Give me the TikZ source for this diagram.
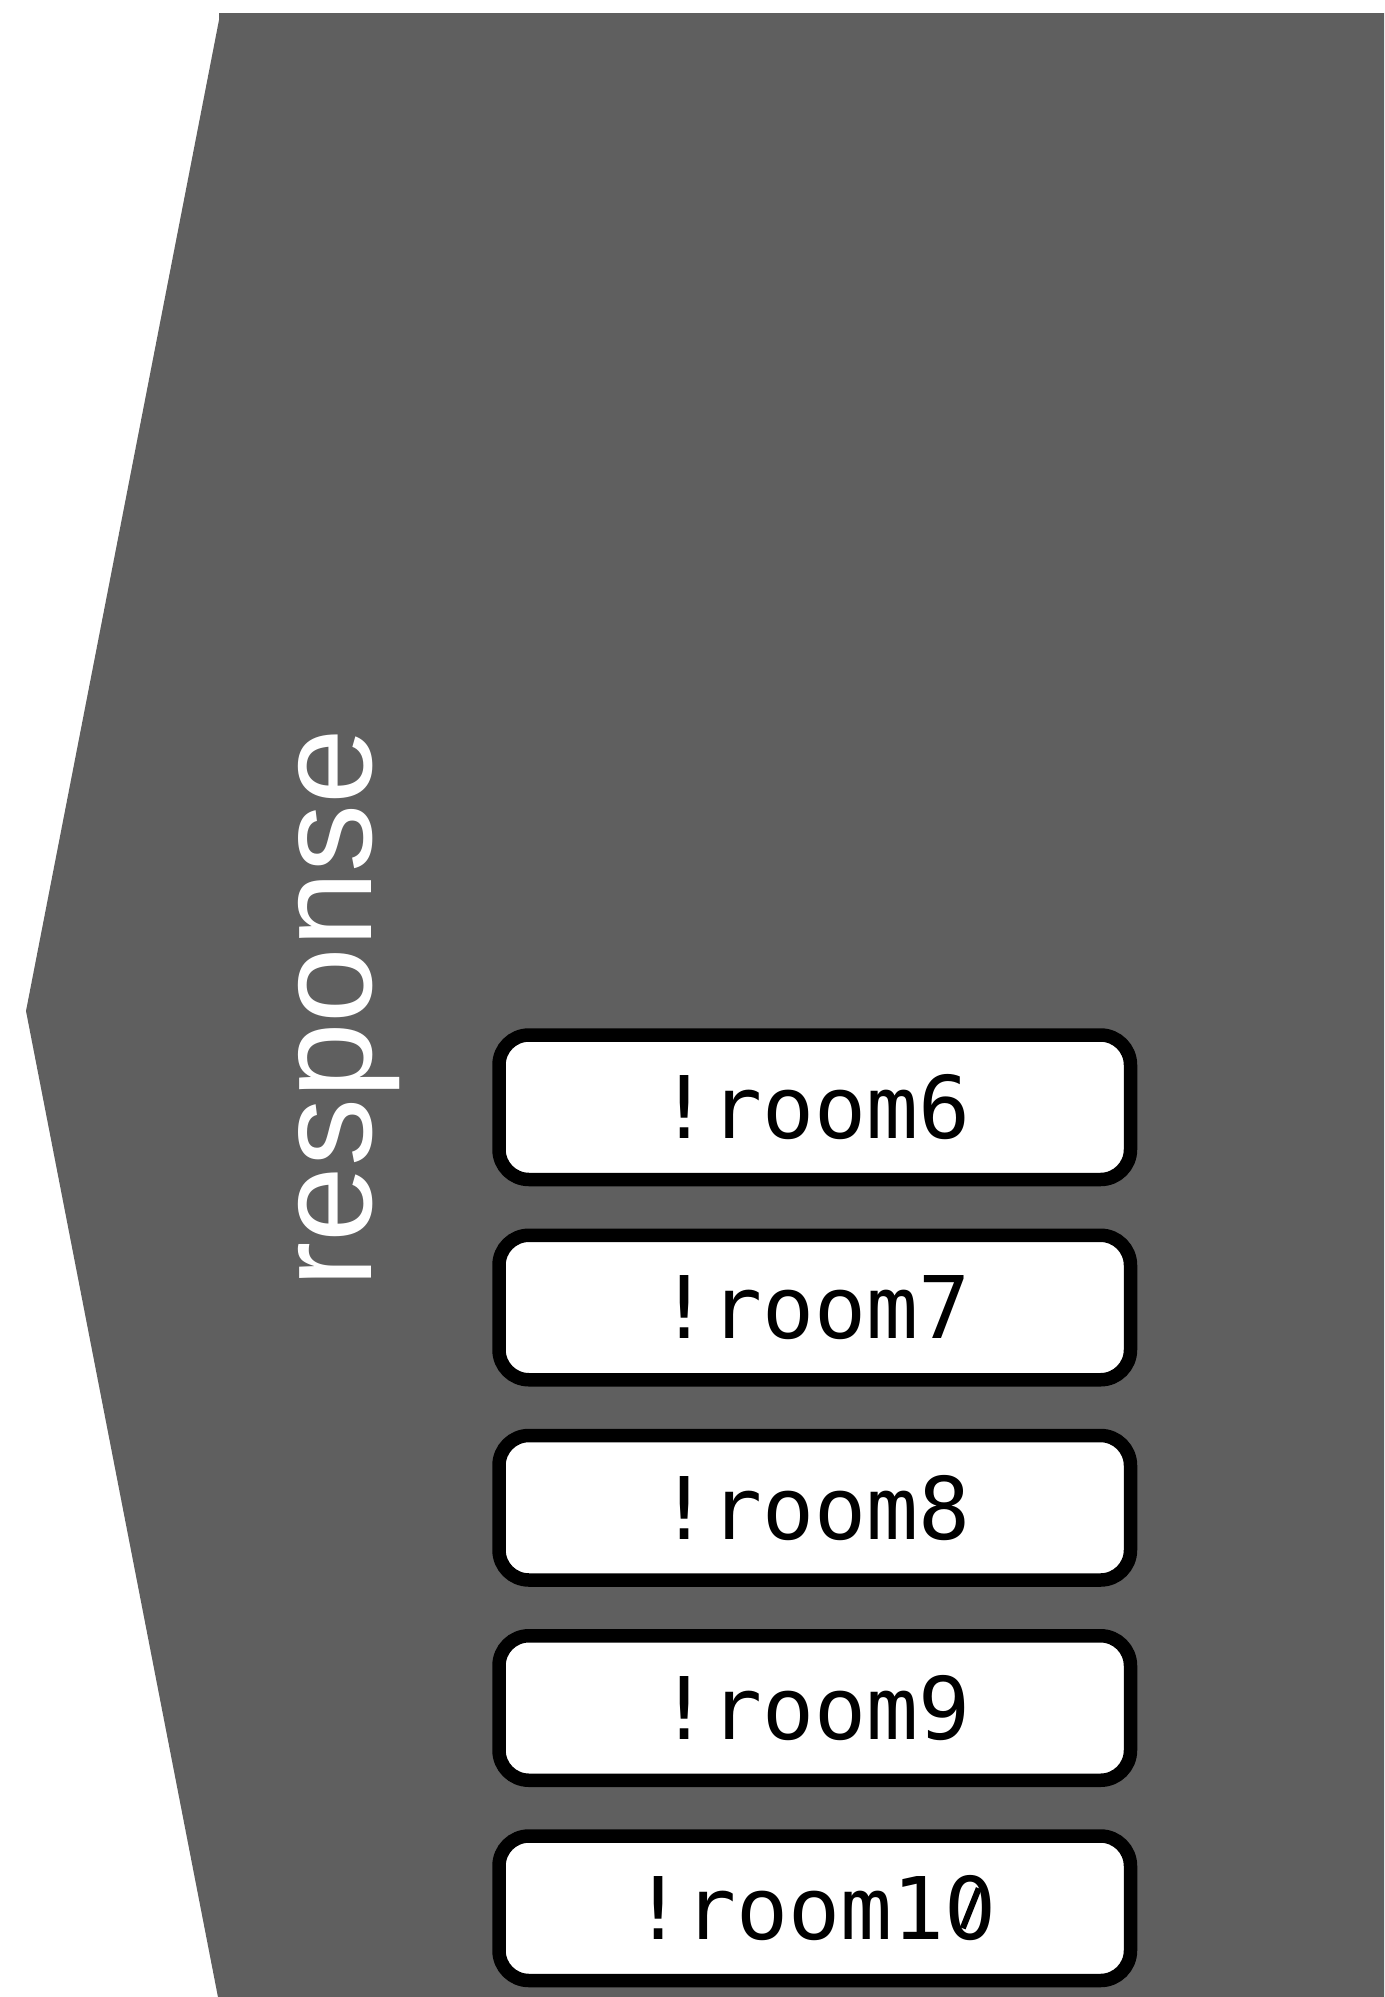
\documentclass[tikz,border=0pt]{standalone}
\usepackage{fontspec}
\usetikzlibrary{calc}
\setmainfont{Liberation Sans}
\newfontfamily\roommono{DejaVu Sans Mono}
\begin{document}
\begin{tikzpicture}[x=1pt,y=-1pt,
  panelfill/.style={fill={rgb,255:red,95;green,95;blue,95}, draw=none},
  roombox/.style={draw=black, fill=white, line width=13.5pt, rounded corners=30pt,
    minimum width=631.5pt, minimum height=144.5pt, inner sep=0pt,
    font=\roommono\fontsize{86.4}{100}\selectfont},
  paneltitle/.style={text=white, rotate=90, anchor=base, inner sep=0pt,
    font=\fontsize{136}{150}\selectfont},
  zeroslash/.style={draw=black, line width=6pt}]
  \useasboundingbox (0,0) rectangle (1384,1997);
  % grey arrow-shaped panel, cut by the page edges
  \begin{scope}
    \clip (0,0) rectangle (1384,1997);
    \fill[panelfill] (219,13) -- (1400,13) -- (1400,2010) -- (220.5,2010)
      -- (26,1011) -- (219,20) -- cycle;
  \end{scope}
  \node[paneltitle] (title) at (371,1008) {response};
  \foreach \k/\n in {0/6,1/7,2/8,3/9,4/10} {
    \node[roombox] (room\n) at (814.75,{1107.25+200.25*\k}) {!room\n};
  }
  % slashed zero in the last label (the mono face dots its zero)
  \coordinate (zero) at ($(room10.center)+(156,0)$);
  \fill[white] ($(zero)+(-7.5,-11)$) rectangle ($(zero)+(7.5,11)$);
  \draw[zeroslash] ($(zero)+(-8,20)$) -- ($(zero)+(8,-20)$);
\end{tikzpicture}
\end{document}
